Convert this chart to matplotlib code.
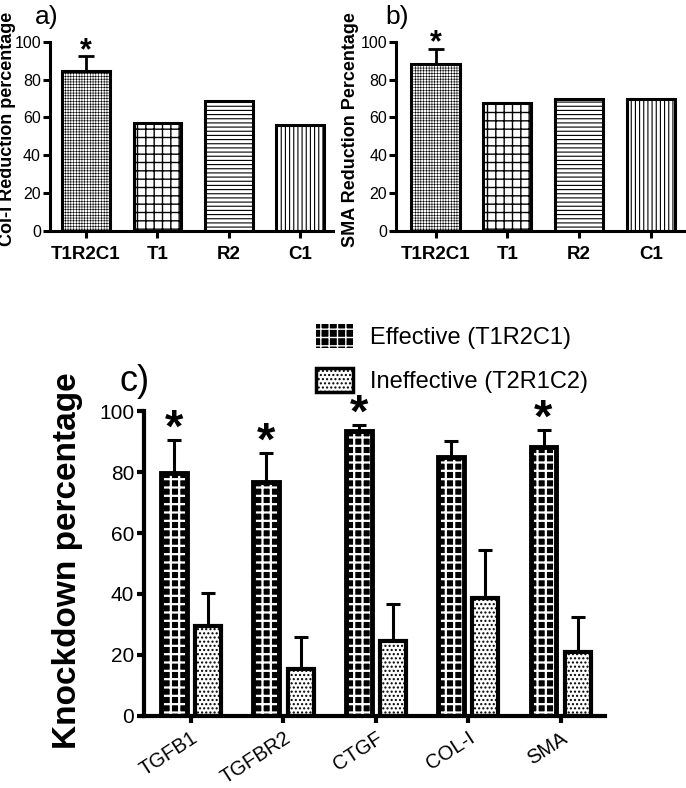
import numpy as np
import matplotlib
matplotlib.use('Agg')
from matplotlib import pyplot as plt
from matplotlib.patches import Patch

plt.rcParams['font.family'] = ['Liberation Sans', 'DejaVu Sans']
plt.rcParams['hatch.linewidth'] = 1.0

# a) and b)
groups = ['T1R2C1', 'T1', 'R2', 'C1']
col1_vals = [84.7, 56.9, 68.8, 55.8]
col1_err = [7.5, 0, 0, 0]
sma_vals = [88.0, 67.4, 69.5, 69.5]
sma_err = [8.0, 0, 0.3, 0]
hatches_ab = ['++++++', '++', '----', '||||']
hatch_lw_ab = [0.4, 1.0, 0.8, 0.8]

# c)
genes = ['TGFB1', 'TGFBR2', 'CTGF', 'COL-I', 'SMA']
effective = [79.6, 76.8, 93.4, 85.0, 88.1]
effective_err = [10.9, 9.3, 2.0, 5.3, 5.7]
ineffective = [29.5, 15.3, 24.7, 38.6, 20.9]
ineffective_err = [10.7, 10.7, 12.0, 15.8, 11.5]
signif = [True, True, True, False, True]

fig = plt.figure(figsize=(6.86, 7.88), dpi=100)


def hatch_lw(bars, lw):
    # matplotlib 3.10 reads the hatch width per patch
    for b in bars:
        if hasattr(b, 'set_hatch_linewidth'):
            b.set_hatch_linewidth(lw)


def style_axes(ax, lw=2.2):
    for s in ['top', 'right']:
        ax.spines[s].set_visible(False)
    for s in ['left', 'bottom']:
        ax.spines[s].set_linewidth(lw)
    ax.tick_params(width=lw, length=5, direction='out')


def small_panel(rect, vals, err, ylabel, xlim, lx):
    ax = fig.add_axes(rect)
    x = np.arange(len(groups))
    for i in range(len(groups)):
        with plt.rc_context({'hatch.linewidth': hatch_lw_ab[i]}):
            b = ax.bar(x[i], vals[i], width=0.67, color='white', edgecolor='black',
                       hatch=hatches_ab[i], linewidth=0, zorder=2)
        hatch_lw(b, hatch_lw_ab[i])
        ax.bar(x[i], vals[i], width=0.67, color='none', edgecolor='black',
               linewidth=2.2, zorder=3)
    ax.errorbar(x, vals, yerr=[np.zeros(len(err)), err], fmt='none',
                ecolor='black', elinewidth=2, capsize=6, capthick=2, zorder=1)
    ax.text(x[0], vals[0] + err[0] + 3, '*', ha='center', va='center',
            fontsize=22, fontweight='bold', clip_on=False)
    ax.set_xlim(*xlim)
    ax.set_ylim(0, 100)
    ax.set_yticks([0, 20, 40, 60, 80, 100])
    ax.set_xticks(x)
    ax.set_xticklabels(groups, fontsize=13.5, fontweight='bold')
    ax.tick_params(axis='y', labelsize=11.5, pad=1.5)
    ax.tick_params(axis='x', length=0, pad=6)
    style_axes(ax)
    fig.text(lx, 0.836, ylabel, rotation=90, ha='center', va='center',
             fontsize=13, fontweight='bold')
    return ax


ax_a = small_panel([0.0729, 0.7069, 0.4125, 0.2402], col1_vals, col1_err,
                   'Col-I Reduction percentage', (-0.505, 3.46), 0.0115)
fig.text(0.051, 0.978, 'a)', fontsize=19, va='center')
ax_b = small_panel([0.5773, 0.7069, 0.4227, 0.2402], sma_vals, sma_err,
                   'SMA Reduction Percentage', (-0.55, 3.49), 0.5115)
fig.text(0.561, 0.978, 'b)', fontsize=19, va='center')

# c)
ax = fig.add_axes([0.2099, 0.0914, 0.672, 0.387])
x = np.arange(len(genes))
w = 0.28
off = 0.185
with plt.rc_context({'hatch.linewidth': 1.6}):
    eb = ax.bar(x - off, effective, width=w, color='black', edgecolor='white',
                hatch='++', linewidth=0, zorder=2)
hatch_lw(eb, 1.6)
ax.bar(x - off, effective, width=w, color='none', edgecolor='black',
       linewidth=3.5, zorder=3)
ax.bar(x + off, ineffective, width=w, color='white', edgecolor='black',
       hatch='....', linewidth=3, zorder=2)
ax.errorbar(x - off, effective, yerr=[np.zeros(5), effective_err], fmt='none',
            ecolor='black', elinewidth=2.2, capsize=5, capthick=2.2, zorder=1)
ax.errorbar(x + off, ineffective, yerr=[np.zeros(5), ineffective_err], fmt='none',
            ecolor='black', elinewidth=2.2, capsize=5, capthick=2.2, zorder=1)
for i in range(len(genes)):
    if signif[i]:
        ax.text(x[i] - off, effective[i] + effective_err[i] + 3.5, '*',
                ha='center', va='center', fontsize=34, fontweight='bold',
                clip_on=False)
ax.set_xlim(-0.51, 4.48)
ax.set_ylim(0, 100)
ax.set_yticks([0, 20, 40, 60, 80, 100])
ax.set_xticks(x)
ax.set_xticklabels(genes, rotation=33, ha='right', rotation_mode='anchor',
                   fontsize=14.5)
ax.tick_params(axis='x', length=0, pad=4)
ax.tick_params(axis='y', labelsize=15, pad=2)
style_axes(ax, lw=3)
fig.text(0.099, 0.288, 'Knockdown percentage', rotation=90, ha='center',
         va='center', fontsize=24, fontweight='bold')
fig.text(0.174, 0.516, 'c)', fontsize=26, va='center')

handles = [Patch(facecolor='black', edgecolor='white', hatch='++', linewidth=0),
           Patch(facecolor='white', edgecolor='black', hatch='....', linewidth=2.5)]
fig.legend(handles, ['Effective (T1R2C1)', 'Ineffective (T2R1C2)'],
           loc='upper left', bbox_to_anchor=(0.443, 0.604), frameon=False,
           fontsize=17, handlelength=1.6, handleheight=1.2, handletextpad=0.7,
           labelspacing=0.8, borderpad=0)

fig.savefig('out.png', dpi=100)
